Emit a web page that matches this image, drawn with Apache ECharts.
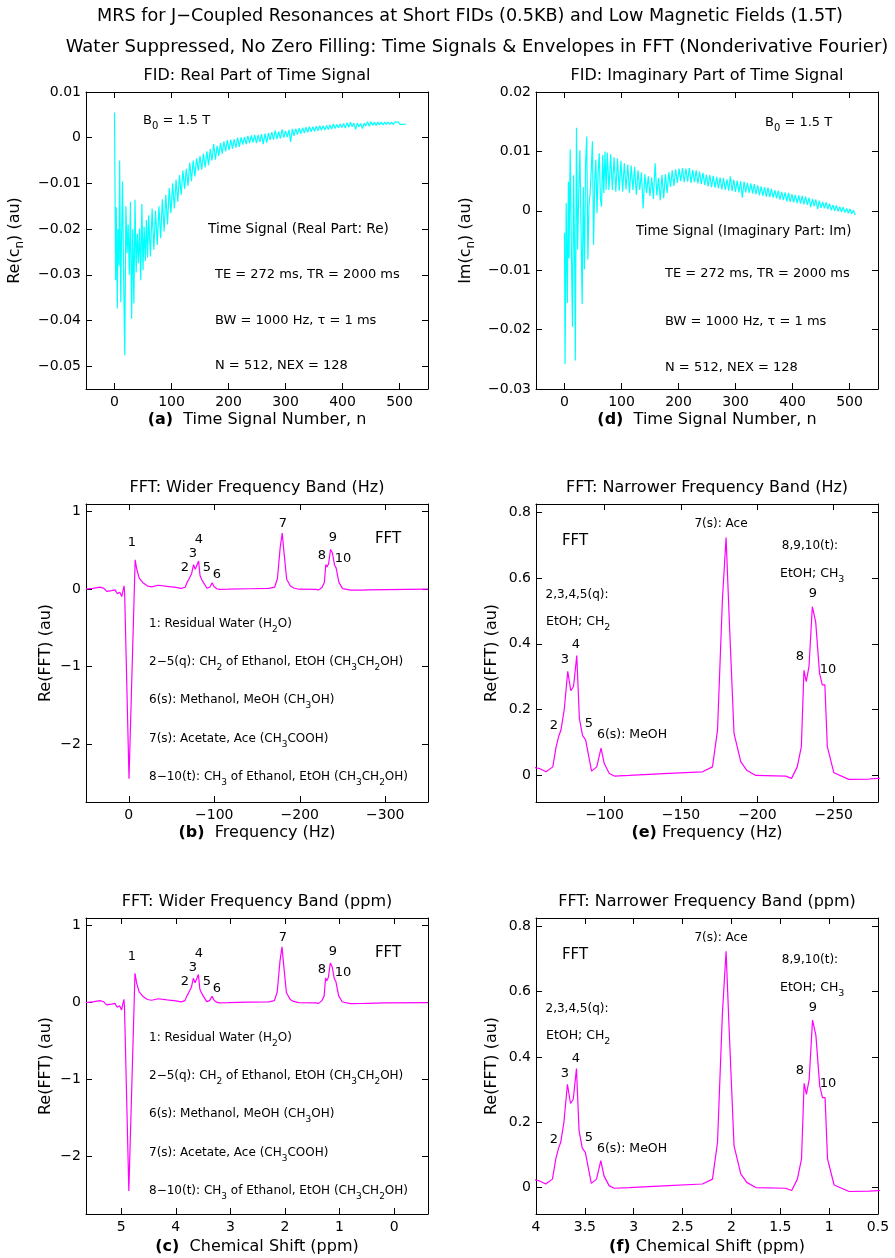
<!DOCTYPE html>
<html>
<head>
<meta charset="utf-8">
<script src="https://cdn.jsdelivr.net/npm/echarts@6/dist/echarts.min.js"></script>
<style>
  html, body { margin: 0; padding: 0; background: #fff; }
  #chart { width: 895px; height: 1258px; }
</style>
</head>
<body>
<div id="chart"></div>
<script>
// ---- data ----
// FID real part, [n, Re(c_n)]
const fidReal = [
  [0,0.0055],[2,-0.0312],[3,-0.0152],[5,-0.0374],[6,-0.0200],[8,-0.0280],[9,-0.0050],[11,-0.0360],
  [12,-0.0250],[14,-0.0096],[16,-0.0300],[18,-0.0476],[20,-0.0150],[22,-0.0253],[24,-0.0190],[26,-0.0300],
  [28,-0.0140],[30,-0.0396],[32,-0.0200],[34,-0.0363],[36,-0.0136],[38,-0.0295],[40,-0.0210],[42,-0.0275],
  [44,-0.0198],[46,-0.0312],[48,-0.0145],[50,-0.0290],[52,-0.0195],[54,-0.0270],[56,-0.0180],[58,-0.0262],
  [60,-0.0170],[63,-0.0260],[66,-0.0155],[69,-0.0245],[72,-0.0160],[75,-0.0235],[78,-0.0150],[81,-0.0220],
  [84,-0.0135],[87,-0.0205],[90,-0.0125],[93,-0.0190],[96,-0.0110],[99,-0.0165],[102,-0.0100],[105,-0.0155],
  [108,-0.0092],[111,-0.0140],[114,-0.0082],[117,-0.0125],[120,-0.0072],[123,-0.0112],[126,-0.0068],[129,-0.0105],
  [132,-0.0055],[135,-0.0095],[138,-0.0050],[141,-0.0085],[144,-0.0045],[147,-0.0072],[150,-0.0040],[153,-0.0070],
  [156,-0.0035],[159,-0.0065],[162,-0.0030],[165,-0.0060],[168,-0.0025],[171,-0.0050],[174,-0.0014],[177,-0.0048],
  [180,-0.0018],[183,-0.0040],[186,-0.0012],[189,-0.0035],[192,-0.0008],[195,-0.0030],[198,-0.0005],[201,-0.0027],
  [204,-0.0004],[207,-0.0024],[210,-0.0003],[213,-0.0022],[216,0.0000],[219,-0.0020],[222,0.0001],[225,-0.0015],
  [228,0.0002],[231,-0.0014],[234,0.0004],[237,-0.0012],[240,0.0005],[243,-0.0010],[246,0.0006],[249,-0.0012],
  [252,0.0006],[255,-0.0009],[258,0.0008],[261,-0.0014],[264,0.0009],[267,-0.0011],[270,0.0010],[273,-0.0005],
  [276,0.0012],[279,-0.0004],[282,0.0016],[285,-0.0003],[288,0.0013],[291,-0.0002],[294,0.0018],[297,0.0000],
  [300,0.0015],[303,0.0001],[306,0.0017],[309,-0.0009],[312,0.0019],[315,0.0004],[318,0.0020],[321,0.0007],
  [324,0.0021],[327,0.0009],[330,0.0022],[333,0.0010],[336,0.0023],[339,0.0012],[342,0.0024],[345,0.0013],
  [348,0.0024],[351,0.0014],[354,0.0025],[357,0.0015],[360,0.0026],[363,0.0016],[366,0.0026],[369,0.0017],
  [372,0.0027],[375,0.0018],[378,0.0028],[381,0.0019],[384,0.0030],[387,0.0020],[390,0.0029],[393,0.0021],
  [396,0.0030],[399,0.0022],[402,0.0031],[405,0.0021],[408,0.0033],[411,0.0023],[414,0.0034],[417,0.0024],
  [420,0.0032],[423,0.0018],[426,0.0032],[429,0.0024],[432,0.0031],[435,0.0020],[438,0.0032],[441,0.0026],
  [444,0.0035],[447,0.0025],[450,0.0035],[453,0.0027],[456,0.0034],[459,0.0027],[462,0.0034],[465,0.0028],
  [468,0.0034],[471,0.0028],[474,0.0034],[477,0.0029],[480,0.0034],[483,0.0029],[486,0.0034],[489,0.0029],
  [492,0.0034],[495,0.0030],[498,0.0034],[501,0.0029],[504,0.0033],[507,0.0029],[510,0.0032],[511,0.0030]
];

// FID imaginary part, [n, Im(c_n)]
const fidImag = [
  [0,-0.0037],[1,-0.0258],[3,0.0013],[5,-0.0155],[7,0.0049],[8,-0.0080],[10,0.0103],[12,-0.0060],
  [14,-0.0195],[16,0.0060],[18,-0.0100],[19,-0.0252],[21,0.0140],[23,-0.0065],[25,0.0030],[27,0.0102],
  [29,-0.0030],[31,-0.0157],[33,0.0040],[35,-0.0099],[37,0.0080],[39,0.0125],[41,-0.0082],[43,0.0010],
  [45,0.0030],[47,0.0070],[49,0.0117],[51,-0.0057],[53,0.0050],[55,0.0086],[57,-0.0004],[59,0.0065],
  [61,0.0097],[63,0.0020],[65,0.0007],[67,0.0094],[69,0.0030],[71,0.0100],[73,0.0035],[75,0.0098],
  [78,0.0035],[81,0.0095],[84,0.0035],[87,0.0090],[90,0.0032],[93,0.0088],[96,0.0034],[99,0.0084],
  [102,0.0032],[105,0.0080],[108,0.0036],[111,0.0078],[114,0.0030],[117,0.0076],[120,0.0035],[123,0.0074],
  [126,0.0027],[129,0.0068],[132,0.0035],[135,0.0065],[138,0.0004],[141,0.0062],[144,0.0030],[147,0.0058],
  [150,0.0025],[153,0.0056],[156,0.0020],[159,0.0080],[162,0.0026],[165,0.0055],[168,0.0018],[171,0.0060],
  [174,0.0021],[177,0.0062],[180,0.0030],[183,0.0065],[186,0.0040],[189,0.0068],[192,0.0042],[195,0.0070],
  [198,0.0047],[201,0.0071],[204,0.0050],[207,0.0072],[210,0.0048],[213,0.0071],[216,0.0049],[219,0.0072],
  [222,0.0047],[225,0.0069],[228,0.0048],[231,0.0068],[234,0.0046],[237,0.0066],[240,0.0045],[243,0.0064],
  [246,0.0043],[249,0.0061],[252,0.0041],[255,0.0060],[258,0.0040],[261,0.0059],[264,0.0039],[267,0.0057],
  [270,0.0038],[273,0.0056],[276,0.0036],[279,0.0055],[282,0.0035],[285,0.0053],[288,0.0034],[291,0.0058],
  [294,0.0033],[297,0.0052],[300,0.0032],[303,0.0051],[306,0.0031],[309,0.0050],[312,0.0022],[315,0.0049],
  [318,0.0031],[321,0.0047],[324,0.0030],[327,0.0046],[330,0.0029],[333,0.0045],[336,0.0028],[339,0.0043],
  [342,0.0026],[345,0.0041],[348,0.0025],[351,0.0040],[354,0.0024],[357,0.0039],[360,0.0023],[363,0.0037],
  [366,0.0022],[369,0.0035],[372,0.0021],[375,0.0034],[378,0.0019],[381,0.0032],[384,0.0018],[387,0.0031],
  [390,0.0016],[393,0.0030],[396,0.0015],[399,0.0028],[402,0.0014],[405,0.0027],[408,0.0013],[411,0.0026],
  [414,0.0012],[417,0.0025],[420,0.0011],[423,0.0024],[426,0.0010],[429,0.0022],[432,0.0006],[435,0.0020],
  [438,0.0008],[441,0.0019],[444,0.0003],[447,0.0017],[450,0.0005],[453,0.0015],[456,0.0004],[459,0.0014],
  [462,0.0003],[465,0.0012],[468,0.0001],[471,0.0010],[474,0.0000],[477,0.0009],[480,-0.0001],[483,0.0007],
  [486,-0.0002],[489,0.0006],[492,-0.0003],[495,0.0004],[498,-0.0004],[501,0.0003],[504,-0.0005],[507,0.0001],
  [510,-0.0007]
];

// Re(FFT) envelope, [frequency in Hz, value]
const fftHz = [
  [50,0.000],[42,0.010],[33.5,0.026],[29,0.010],[25.7,-0.030],[20,-0.020],[16,-0.010],[13.3,-0.060],
  [10.5,-0.040],[8.2,-0.096],[5.5,0.043],[4.8,-0.050],[-0.3,-2.450],[-7.5,0.380],[-9.5,0.250],[-12.4,0.140],
  [-17,0.078],[-22,0.040],[-27,0.030],[-34.6,0.050],[-45,0.035],[-55.1,0.022],[-57.3,0.020],[-61.6,0.010],
  [-66,0.025],[-68.2,0.087],[-70,0.120],[-71.4,0.138],[-73.5,0.200],[-75.8,0.316],[-77.8,0.257],[-79.6,0.270],
  [-81.7,0.364],[-83.4,0.173],[-85.5,0.120],[-87.5,0.107],[-91.4,0.012],[-94.8,0.025],[-97.6,0.082],[-99.7,0.035],
  [-103,0.005],[-106.3,-0.003],[-116,-0.001],[-142,0.005],[-164,0.010],[-170.6,0.025],[-173.9,0.138],[-177.1,0.535],
  [-179.5,0.724],[-181.5,0.484],[-184.7,0.127],[-189.1,0.041],[-193,0.015],[-198.9,-0.001],[-218.5,-0.003],[-222.4,-0.010],
  [-226.1,0.025],[-228.8,0.087],[-230.5,0.319],[-232,0.285],[-233.8,0.331],[-236,0.513],[-238.2,0.466],[-240.7,0.311],
  [-242.5,0.275],[-244.2,0.275],[-245.8,0.087],[-250.1,0.007],[-259.9,-0.013],[-273,-0.012],[-279,-0.010],[-300,-0.005],
  [-350,0.000]
];

// Hz -> ppm at 1.5 T (63.87 MHz), water reference
const LARMOR_MHZ = 63.87;
const WATER_PPM = 4.865;
const fftPpm = fftHz.map(function(p) { return [WATER_PPM + p[0] / LARMOR_MHZ, p[1]]; });

// tick values
const ticksN = [0, 100, 200, 300, 400, 500];
const ticksRe = [-0.05, -0.04, -0.03, -0.02, -0.01, 0, 0.01];
const ticksIm = [-0.03, -0.02, -0.01, 0, 0.01, 0.02];
const ticksHzWide = [0, -100, -200, -300];
const ticksHzNarrow = [-100, -150, -200, -250];
const ticksPpmWide = [5, 4, 3, 2, 1, 0];
const ticksPpmNarrow = [4, 3.5, 3, 2.5, 2, 1.5, 1, 0.5];
const ticksFftWide = [-2, -1, 0, 1];
const ticksFftNarrow = [0, 0.2, 0.4, 0.6, 0.8];

// ---- layout ----
const FONT = '"DejaVu Sans", "Liberation Sans", sans-serif';
const CYAN = '#00ffff';
const MAGENTA = '#ff00ff';

const panels = [
  { rect: [86, 92, 342, 297], x: [-50, 550, false, ticksN], y: [-0.055, 0.01, ticksRe],
    data: fidReal, color: CYAN, title: 'FID: Real Part of Time Signal',
    xName: '{b|(a)}  Time Signal Number, n', yName: 'Re(c{s|n}) (au)', yGap: 60 },
  { rect: [536, 92, 342, 297], x: [-50, 550, false, ticksN], y: [-0.03, 0.02, ticksIm],
    data: fidImag, color: CYAN, title: 'FID: Imaginary Part of Time Signal',
    xName: '{b|(d)}  Time Signal Number, n', yName: 'Im(c{s|n}) (au)', yGap: 59 },
  { rect: [86, 504, 342, 298], x: [-350, 50, true, ticksHzWide], y: [-2.75, 1.1, ticksFftWide],
    data: fftHz, color: MAGENTA, title: 'FFT: Wider Frequency Band (Hz)',
    xName: '{b|(b)}  Frequency (Hz)', yName: 'Re(FFT) (au)', yGap: 29 },
  { rect: [536, 504, 342, 298], x: [-279, -55, true, ticksHzNarrow], y: [-0.082, 0.826, ticksFftNarrow],
    data: fftHz, color: MAGENTA, title: 'FFT: Narrower Frequency Band (Hz)',
    xName: '{b|(e)} Frequency (Hz)', yName: 'Re(FFT) (au)', yGap: 33 },
  { rect: [86, 918, 342, 296], x: [-0.62, 5.645, true, ticksPpmWide], y: [-2.75, 1.1, ticksFftWide],
    data: fftPpm, color: MAGENTA, title: 'FFT: Wider Frequency Band (ppm)',
    xName: '{b|(c)}  Chemical Shift (ppm)', yName: 'Re(FFT) (au)', yGap: 29 },
  { rect: [536, 918, 342, 296], x: [0.5, 4, true, ticksPpmNarrow], y: [-0.082, 0.826, ticksFftNarrow],
    data: fftPpm, color: MAGENTA, title: 'FFT: Narrower Frequency Band (ppm)',
    xName: '{b|(f)} Chemical Shift (ppm)', yName: 'Re(FFT) (au)', yGap: 33 }
];

// annotation text: [text, dx, dy, align, font size], offsets from the panel's top-left corner
const notesFid = function(tag) {
  return tag === 'a' ? [
    ['B_0 = 1.5 T', 57, 29, 'left', 13],
    ['Time Signal (Real Part: Re)', 122, 137, 'left', 13.6],
    ['TE = 272 ms, TR = 2000 ms', 129, 183, 'left', 13],
    ['BW = 1000 Hz, \u03c4 = 1 ms', 129, 229, 'left', 13],
    ['N = 512, NEX = 128', 129, 274, 'left', 13]
  ] : [
    ['B_0 = 1.5 T', 229, 31, 'left', 13],
    ['Time Signal (Imaginary Part: Im)', 100, 140, 'left', 13.3],
    ['TE = 272 ms, TR = 2000 ms', 129, 182, 'left', 13],
    ['BW = 1000 Hz, \u03c4 = 1 ms', 129, 230, 'left', 13],
    ['N = 512, NEX = 128', 129, 276, 'left', 13]
  ];
};
const notesWide = [
  ['1', 46, 39, 'center', 13], ['2', 99, 64, 'center', 13], ['3', 107, 50, 'center', 13], ['4', 113, 36, 'center', 13],
  ['5', 121, 64, 'center', 13], ['6', 131, 71, 'center', 13], ['7', 197, 20, 'center', 13], ['8', 236, 52, 'center', 13],
  ['9', 247, 34, 'center', 13], ['10', 257, 55, 'center', 13], ['FFT', 302, 35, 'center', 15],
  ['1: Residual Water (H_2O)', 63, 120, 'left', 12],
  ['2\u22125(q): CH_2 of Ethanol, EtOH (CH_3CH_2OH)', 63, 158, 'left', 12],
  ['6(s): Methanol, MeOH (CH_3OH)', 63, 196, 'left', 12],
  ['7(s): Acetate, Ace (CH_3COOH)', 63, 235, 'left', 12],
  ['8\u221210(t): CH_3 of Ethanol, EtOH (CH_3CH_2OH)', 63, 273, 'left', 12]
];
const notesNarrow = [
  ['FFT', 39, 37, 'center', 15], ['7(s): Ace', 185, 20, 'center', 12], ['8,9,10(t):', 274, 42, 'center', 12],
  ['EtOH; CH_3', 244, 70, 'left', 12.5], ['2,3,4,5(q):', 41, 91, 'center', 12], ['EtOH; CH_2', 10, 118, 'left', 12.5],
  ['4', 40, 141, 'center', 13], ['3', 29, 156, 'center', 13], ['2', 18, 222, 'center', 13], ['5', 53, 220, 'center', 13],
  ['6(s): MeOH', 96, 231, 'center', 12.5], ['9', 277, 90, 'center', 13], ['8', 264, 153, 'center', 13],
  ['10', 292, 166, 'center', 13]
];
const panelNotes = [notesFid('a'), notesFid('d'), notesWide, notesNarrow, notesWide, notesNarrow];

function minus(v) {
  return String(v).replace('-', '\u2212');
}

// text element; "_x" marks a one-character subscript
function text(str, x, y, size, align) {
  return {
    type: 'text', x: x, y: y, silent: true,
    style: {
      text: str.replace(/_(\w)/g, '{s|$1}'),
      fill: '#000', fontSize: size, fontFamily: FONT,
      lineHeight: Math.round(size + 8),
      align: align, verticalAlign: 'middle', textAlign: align, textVerticalAlign: 'middle',
      rich: { s: { fontSize: size - 3, fontFamily: FONT, fill: '#000', lineHeight: size - 3, verticalAlign: 'bottom' } }
    }
  };
}

function axisBase(min, max, inverse, ticks, gridIndex, position, labels) {
  return {
    type: 'value', gridIndex: gridIndex, position: position, min: min, max: max, inverse: inverse,
    splitLine: { show: false },
    axisLine: { show: true, onZero: false, lineStyle: { color: '#000', width: 1 } },
    axisTick: { show: true, inside: true, length: 6, customValues: ticks, lineStyle: { color: '#000' } },
    axisLabel: {
      show: labels, customValues: ticks, color: '#000', fontSize: 14, fontFamily: FONT,
      margin: position === 'bottom' ? 6 : 5, formatter: minus
    }
  };
}

const grid = [], xAxis = [], yAxis = [], series = [];
const graphic = [
  text('MRS for J\u2212Coupled Resonances at Short FIDs (0.5KB) and Low Magnetic Fields (1.5T)', 470, 16, 17.6, 'center'),
  text('Water Suppressed, No Zero Filling: Time Signals & Envelopes in FFT (Nonderivative Fourier)', 477, 47, 18, 'center')
];

panels.forEach(function(p, i) {
  const r = p.rect;
  grid.push({ left: r[0], top: r[1], width: r[2], height: r[3], containLabel: false, outerBoundsMode: 'none' });

  const xb = axisBase(p.x[0], p.x[1], p.x[2], p.x[3], i, 'bottom', true);
  xb.name = p.xName;
  xb.nameLocation = 'middle';
  xb.nameGap = i >= 4 ? 23 : 21;
  xb.nameMoveOverlap = false;
  xb.nameTextStyle = {
    color: '#000', fontSize: 16, fontFamily: FONT, lineHeight: 20,
    rich: { b: { fontSize: 16, fontFamily: FONT, fontWeight: 'bold', color: '#000', lineHeight: 20 } }
  };
  xAxis.push(xb, axisBase(p.x[0], p.x[1], p.x[2], p.x[3], i, 'top', false));

  const yl = axisBase(p.y[0], p.y[1], false, p.y[2], i, 'left', true);
  yl.name = p.yName;
  yl.nameLocation = 'middle';
  yl.nameGap = p.yGap;
  yl.nameMoveOverlap = false;
  yl.nameTextStyle = {
    color: '#000', fontSize: 16, fontFamily: FONT, lineHeight: 22,
    rich: { s: { fontSize: 12, fontFamily: FONT, color: '#000', lineHeight: 12, verticalAlign: 'bottom' } }
  };
  yAxis.push(yl, axisBase(p.y[0], p.y[1], false, p.y[2], i, 'right', false));

  series.push({
    type: 'line', xAxisIndex: 2 * i, yAxisIndex: 2 * i, data: p.data,
    symbol: 'none', showSymbol: false, clip: true, silent: true,
    lineStyle: { color: p.color, width: 1.2 }
  });

  graphic.push(text(p.title, r[0] + r[2] / 2, r[1] - 16, 16, 'center'));
  panelNotes[i].forEach(function(n) {
    graphic.push(text(n[0], r[0] + n[1], r[1] + n[2], n[4], n[3]));
  });
});

const chart = echarts.init(document.getElementById('chart'), null, { renderer: 'canvas' });
chart.setOption({
  animation: false,
  backgroundColor: '#fff',
  textStyle: { fontFamily: FONT },
  grid: grid,
  xAxis: xAxis,
  yAxis: yAxis,
  series: series,
  graphic: graphic
});
</script>
</body>
</html>
